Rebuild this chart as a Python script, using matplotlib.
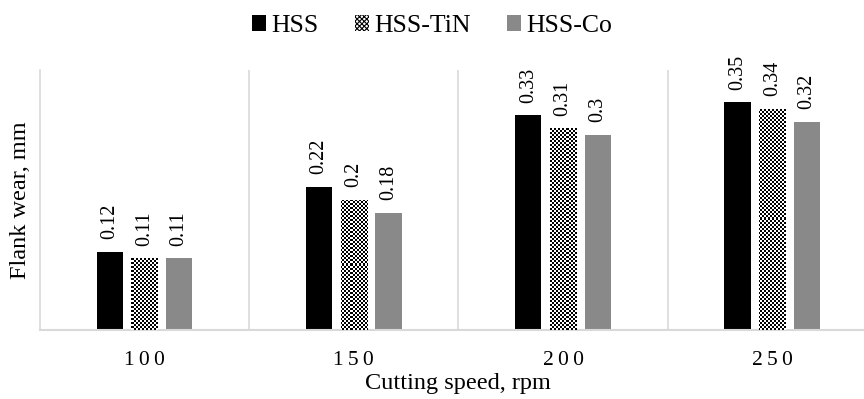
import matplotlib.pyplot as plt
import numpy as np

speeds = ['100', '150', '200', '250']
series = ['HSS', 'HSS-TiN', 'HSS-Co']
hss = [0.12, 0.22, 0.33, 0.35]
hss_tin = [0.11, 0.20, 0.31, 0.34]
hss_co = [0.11, 0.18, 0.30, 0.32]

plt.rcParams['font.family'] = ['Liberation Serif', 'DejaVu Serif']
plt.rcParams['hatch.linewidth'] = 0.8

fig = plt.figure(figsize=(8.64, 3.99), dpi=100)
ax = fig.add_axes([0.046, 0.173, 0.969, 0.652])

x = np.arange(len(speeds))
w = 0.125
step = 0.166

ax.set_xlim(-0.5, 3.5)
ax.set_ylim(0, 0.4)

ax.bar(x - step, hss, w, color='black', label=series[0])
tin = ax.bar(x, hss_tin, w, facecolor='white', edgecolor='black',
             hatch='x' * 7, linewidth=0, label=series[1])
ax.bar(x + step, hss_co, w, color='#898989', label=series[2])

# checkerboard fill for the TiN bars (2px cells), clipped to each bar
hpx, wpx = 260, 837
ii, jj = np.indices((hpx, wpx))
checker = ((ii // 2 + jj // 2) % 2).astype(float)
for p in tin.patches:
    im = ax.imshow(checker, cmap='gray', extent=(-0.5, 3.5, 0, 0.4),
                   aspect='auto', interpolation='nearest', zorder=3)
    im.set_clip_path(p)

for off, vals in zip([-step, 0, step], [hss, hss_tin, hss_co]):
    for xi, v in zip(x, vals):
        ax.annotate(f'{v:g}', (xi + off, v), xytext=(0, 9),
                    textcoords='offset points', rotation=90,
                    ha='center', va='bottom', fontsize=14.5)

for b in np.arange(0.5, 3.5, 1):
    ax.axvline(b, color='#d9d9d9', lw=1.2, zorder=0)

ax.set_xticks(x)
ax.set_xticklabels(['\u2009'.join(s) for s in speeds], fontsize=15.5)
ax.tick_params(axis='x', length=0, pad=15)
ax.set_yticks([])
for s in ['top', 'right']:
    ax.spines[s].set_visible(False)
ax.spines['left'].set_color('#d9d9d9')
ax.spines['left'].set_linewidth(1.2)
ax.spines['bottom'].set_color('#d9d9d9')
ax.spines['bottom'].set_linewidth(1.5)

ax.set_xlabel('Cutting speed, rpm', fontsize=17.5, labelpad=2)
ax.set_ylabel('Flank wear, mm', fontsize=17.5, labelpad=6)

fig.legend(loc='upper center', bbox_to_anchor=(0.5, 1.02), ncol=3,
           frameon=False, fontsize=18.5, handlelength=0.55, handleheight=0.55,
           handletextpad=0.2, columnspacing=1.4)

fig.savefig('out.png', dpi=100)
